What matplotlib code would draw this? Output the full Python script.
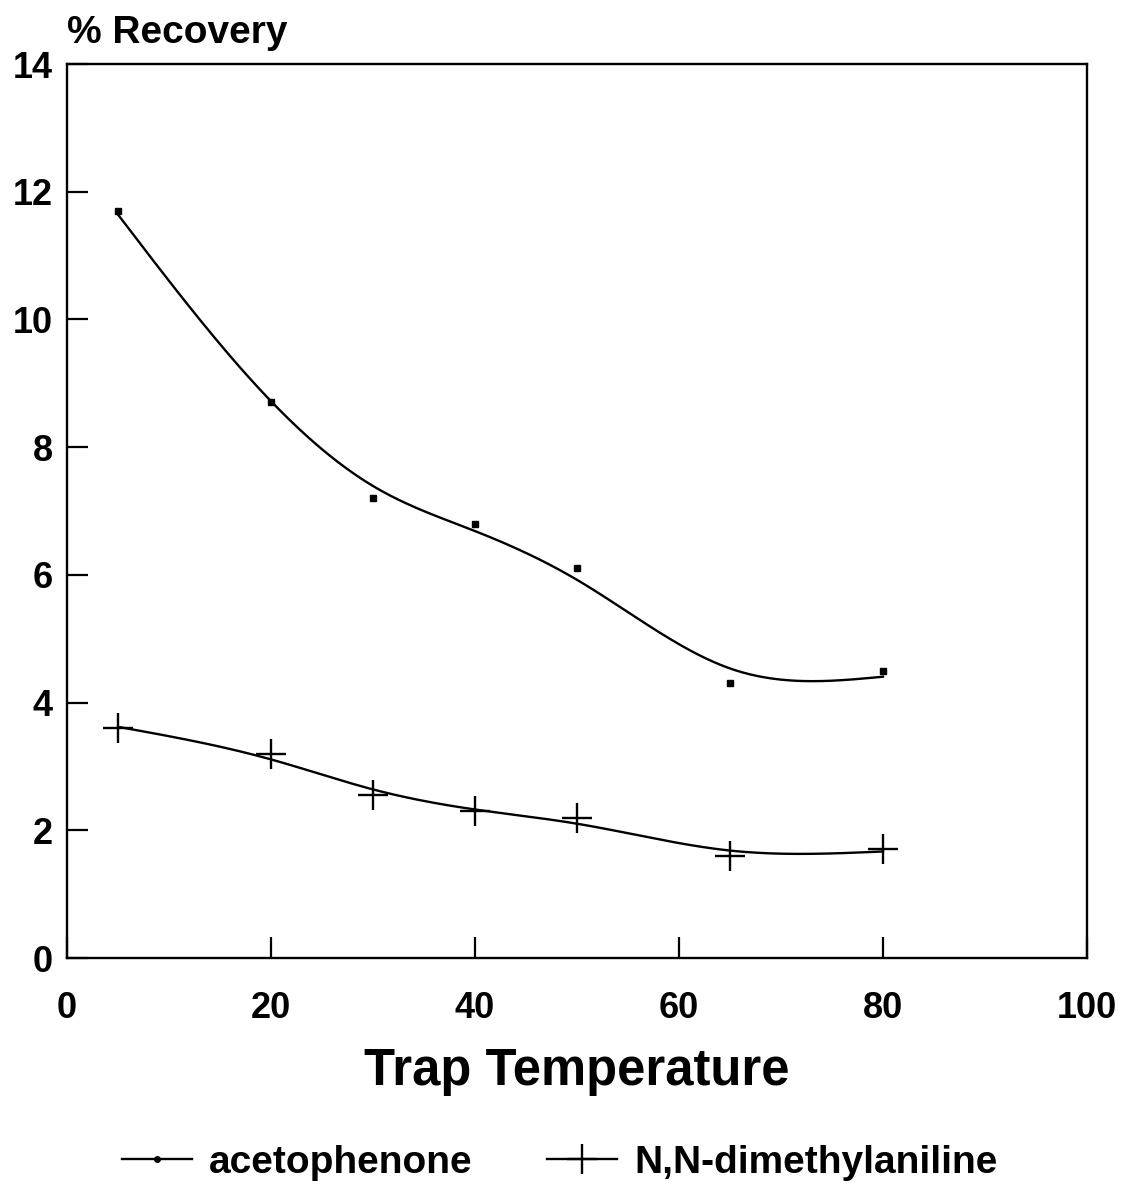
import numpy as np
import matplotlib.pyplot as plt

# --- data ---
temps = [5, 20, 30, 40, 50, 65, 80]
acetophenone = [11.7, 8.7, 7.2, 6.8, 6.1, 4.3, 4.5]
dimethylaniline = [3.6, 3.2, 2.55, 2.3, 2.2, 1.6, 1.7]

x_ticks = [0, 20, 40, 60, 80, 100]
y_ticks = [0, 2, 4, 6, 8, 10, 12, 14]

plt.rcParams["font.family"] = "Liberation Sans"
plt.rcParams["font.weight"] = "bold"
plt.rcParams["axes.labelweight"] = "bold"


def smooth_fit(x, y, lam, n=301):
    # penalised least squares on a fine grid (discrete cubic smoothing spline)
    x = np.asarray(x, float)
    y = np.asarray(y, float)
    xs = np.linspace(x.min(), x.max(), n)
    dx = xs[1] - xs[0]
    B = np.zeros((len(x), n))
    idx = np.round((x - xs[0]) / dx).astype(int)
    B[np.arange(len(x)), idx] = 1.0
    D = np.diff(np.eye(n), 2, axis=0) / dx**2
    A = B.T @ B + lam * dx * (D.T @ D)
    return xs, np.linalg.solve(A, B.T @ y)


fig = plt.figure(figsize=(11.24, 12.03), dpi=100)
ax = fig.add_axes([67 / 1124, 1 - 958 / 1203, (1087 - 67) / 1124, (958 - 64) / 1203])

SMOOTH = 150

xs, ys = smooth_fit(temps, acetophenone, SMOOTH)
ax.plot(xs, ys, color="black", linewidth=1.7)
ax.plot(temps, acetophenone, linestyle="none", marker="s", markersize=5, color="black")

xs, ys = smooth_fit(temps, dimethylaniline, SMOOTH)
ax.plot(xs, ys, color="black", linewidth=1.7)
ax.plot(temps, dimethylaniline, linestyle="none", marker="+", markersize=21,
        markeredgewidth=1.7, color="black")

ax.set_xlim(0, 100)
ax.set_ylim(0, 14)
ax.set_xticks(x_ticks)
ax.set_yticks(y_ticks)
ax.tick_params(direction="in", length=15, width=1.6, labelsize=26,
               top=False, right=False)
ax.tick_params(axis="y", pad=10)
ax.tick_params(axis="x", pad=24)
for sp in ax.spines.values():
    sp.set_linewidth(1.7)

ax.set_xlabel("Trap Temperature", fontsize=36.5, labelpad=15)
fig.text(67 / 1124, 1 - 33 / 1203, "% Recovery", fontsize=28, va="center", ha="left")

h1 = plt.Line2D([], [], color="black", linewidth=1.7, marker="o", markersize=4)
h2 = plt.Line2D([], [], color="black", linewidth=1.7, marker="+", markersize=21,
                markeredgewidth=1.7)
fig.legend([h1, h2], ["acetophenone", "N,N-dimethylaniline"], loc="center",
           bbox_to_anchor=(0.498, 1 - 1163 / 1203), ncol=2, frameon=False,
           fontsize=28, handlelength=1.8, handletextpad=0.45, columnspacing=1.9,
           numpoints=1)

fig.savefig("out.png", dpi=100)
